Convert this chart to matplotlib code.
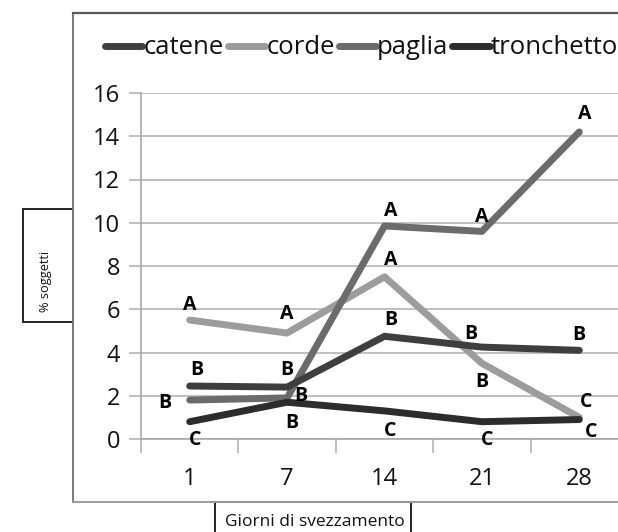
import matplotlib
matplotlib.use("Agg")
import matplotlib.pyplot as plt
from matplotlib.patches import Rectangle
from matplotlib.lines import Line2D

W, H = 618, 532
DPI = 100

# Data
giorni = ["1", "7", "14", "21", "28"]
catene = [2.45, 2.4, 4.75, 4.25, 4.1]
corde = [5.5, 4.9, 7.5, 3.5, 1.0]
paglia = [1.8, 1.9, 9.85, 9.6, 14.2]
tronchetto = [0.8, 1.7, 1.3, 0.8, 0.9]

lettere_catene = ["B", "B", "B", "B", "B"]
lettere_corde = ["A", "A", "A", "B", "C"]
lettere_paglia = ["B", "B", "A", "A", "A"]
lettere_tronchetto = ["C", "B", "C", "C", "C"]

y_ticks = [0, 2, 4, 6, 8, 10, 12, 14, 16]

FONT = "Open Sans"
plt.rcParams["font.family"] = [FONT, "DejaVu Sans"]

fig = plt.figure(figsize=(W / DPI, H / DPI), dpi=DPI)
fig.patch.set_facecolor("white")


def fx(px):
    return px / W


def fy(py):
    return 1 - py / H


# Outer chart frame
frame_col = "#7a7a7a"
fig.add_artist(Line2D([fx(73), fx(73)], [fy(13), fy(502)], color=frame_col, lw=1.4))
fig.add_artist(Line2D([fx(73), 1.0], [fy(13), fy(13)], color="#5a5a5a", lw=1.6))
fig.add_artist(Line2D([fx(73), 1.0], [fy(502), fy(502)], color="#9a9a9a", lw=1.4))

# Plot area
left, right, top, bottom = 141, 628, 93, 439
ax = fig.add_axes([fx(left), fy(bottom), (right - left) / W, (bottom - top) / H])
ax.set_facecolor("white")
x = list(range(len(giorni)))

series = [
    ("catene", catene, "#3e3e3e", lettere_catene),
    ("corde", corde, "#9c9c9c", lettere_corde),
    ("paglia", paglia, "#6b6b6b", lettere_paglia),
    ("tronchetto", tronchetto, "#2c2c2c", lettere_tronchetto),
]

draw_order = ["corde", "paglia", "catene", "tronchetto"]
handles = {}
for name, vals, col, _ in series:
    (ln,) = ax.plot(x, vals, color=col, lw=5.0, solid_capstyle="round",
                    solid_joinstyle="round", zorder=3 + draw_order.index(name),
                    clip_on=False, label=name)
    handles[name] = ln

# Significance letters (offsets in pixels: dx right, dy down)
offsets = {
    "catene": [(7, -16), (0, -17), (6, -16), (-11, -13), (0, -15)],
    "corde": [(0, -15), (0, -19), (6, -17), (0, 19), (7, -15)],
    "paglia": [(-25, 3), (14, -2), (6, -15), (0, -14), (5, -18)],
    "tronchetto": [(5, 18), (5, 21), (6, 20), (5, 18), (12, 12)],
}
for name, vals, col, letters in series:
    for i, (v, t) in enumerate(zip(vals, letters)):
        dx, dy = offsets[name][i]
        ax.annotate(t, (x[i], v), xytext=(dx * 0.72, -dy * 0.72),
                    textcoords="offset points", ha="center", va="center",
                    fontsize=14, fontweight="bold", color="black",
                    zorder=10, annotation_clip=False)

ax.set_xlim(-0.5, len(giorni) - 0.5)
ax.set_ylim(0, 16)
ax.set_yticks(y_ticks)
ax.set_yticklabels([str(t) for t in y_ticks], fontsize=17, color="#111111")
ax.set_xticks(x)
ax.set_xticklabels(giorni, fontsize=17, color="#111111")
ax.set_xticks([i - 0.5 for i in range(len(giorni) + 1)], minor=True)

ax.grid(axis="y", color="#b4b4b4", lw=1.2, zorder=0)
ax.tick_params(axis="y", which="major", length=9, width=1.2, color="#b4b4b4", pad=6)
ax.tick_params(axis="x", which="major", length=0, pad=20)
ax.tick_params(axis="x", which="minor", length=10, width=1.2, color="#b4b4b4")
for s in ["top", "right"]:
    ax.spines[s].set_visible(False)
ax.spines["left"].set_color("#a8a8a8")
ax.spines["left"].set_linewidth(1.2)
ax.spines["bottom"].set_color("#a8a8a8")
ax.spines["bottom"].set_linewidth(1.2)

# Legend
leg = fig.legend([handles[n] for n, *_ in series], [n for n, *_ in series],
                 loc="center left", bbox_to_anchor=(fx(105), fy(48)),
                 ncol=4, frameon=False, fontsize=18.5, handlelength=1.45,
                 handletextpad=0.05, columnspacing=0.15, borderaxespad=0,
                 borderpad=0)
for t in leg.get_texts():
    t.set_color("#111111")

# Axis title boxes
fig.add_artist(Rectangle((fx(23), fy(322)), fx(73) - fx(23), fy(209) - fy(322),
                         facecolor="white", edgecolor="#222222", lw=1.4,
                         transform=fig.transFigure))
fig.text(fx(45), fy(281), "% soggetti", rotation=90, ha="center", va="center",
         fontsize=9.2, color="#111111")

fig.add_artist(Rectangle((fx(215), fy(545)), fx(411) - fx(215), fy(502) - fy(545),
                         facecolor="white", edgecolor="#222222", lw=1.4,
                         transform=fig.transFigure, clip_on=False))
fig.text(fx(315), fy(522), "Giorni di svezzamento", ha="center", va="center",
         fontsize=12.5, color="#111111")

fig.savefig("out.png", dpi=DPI)
